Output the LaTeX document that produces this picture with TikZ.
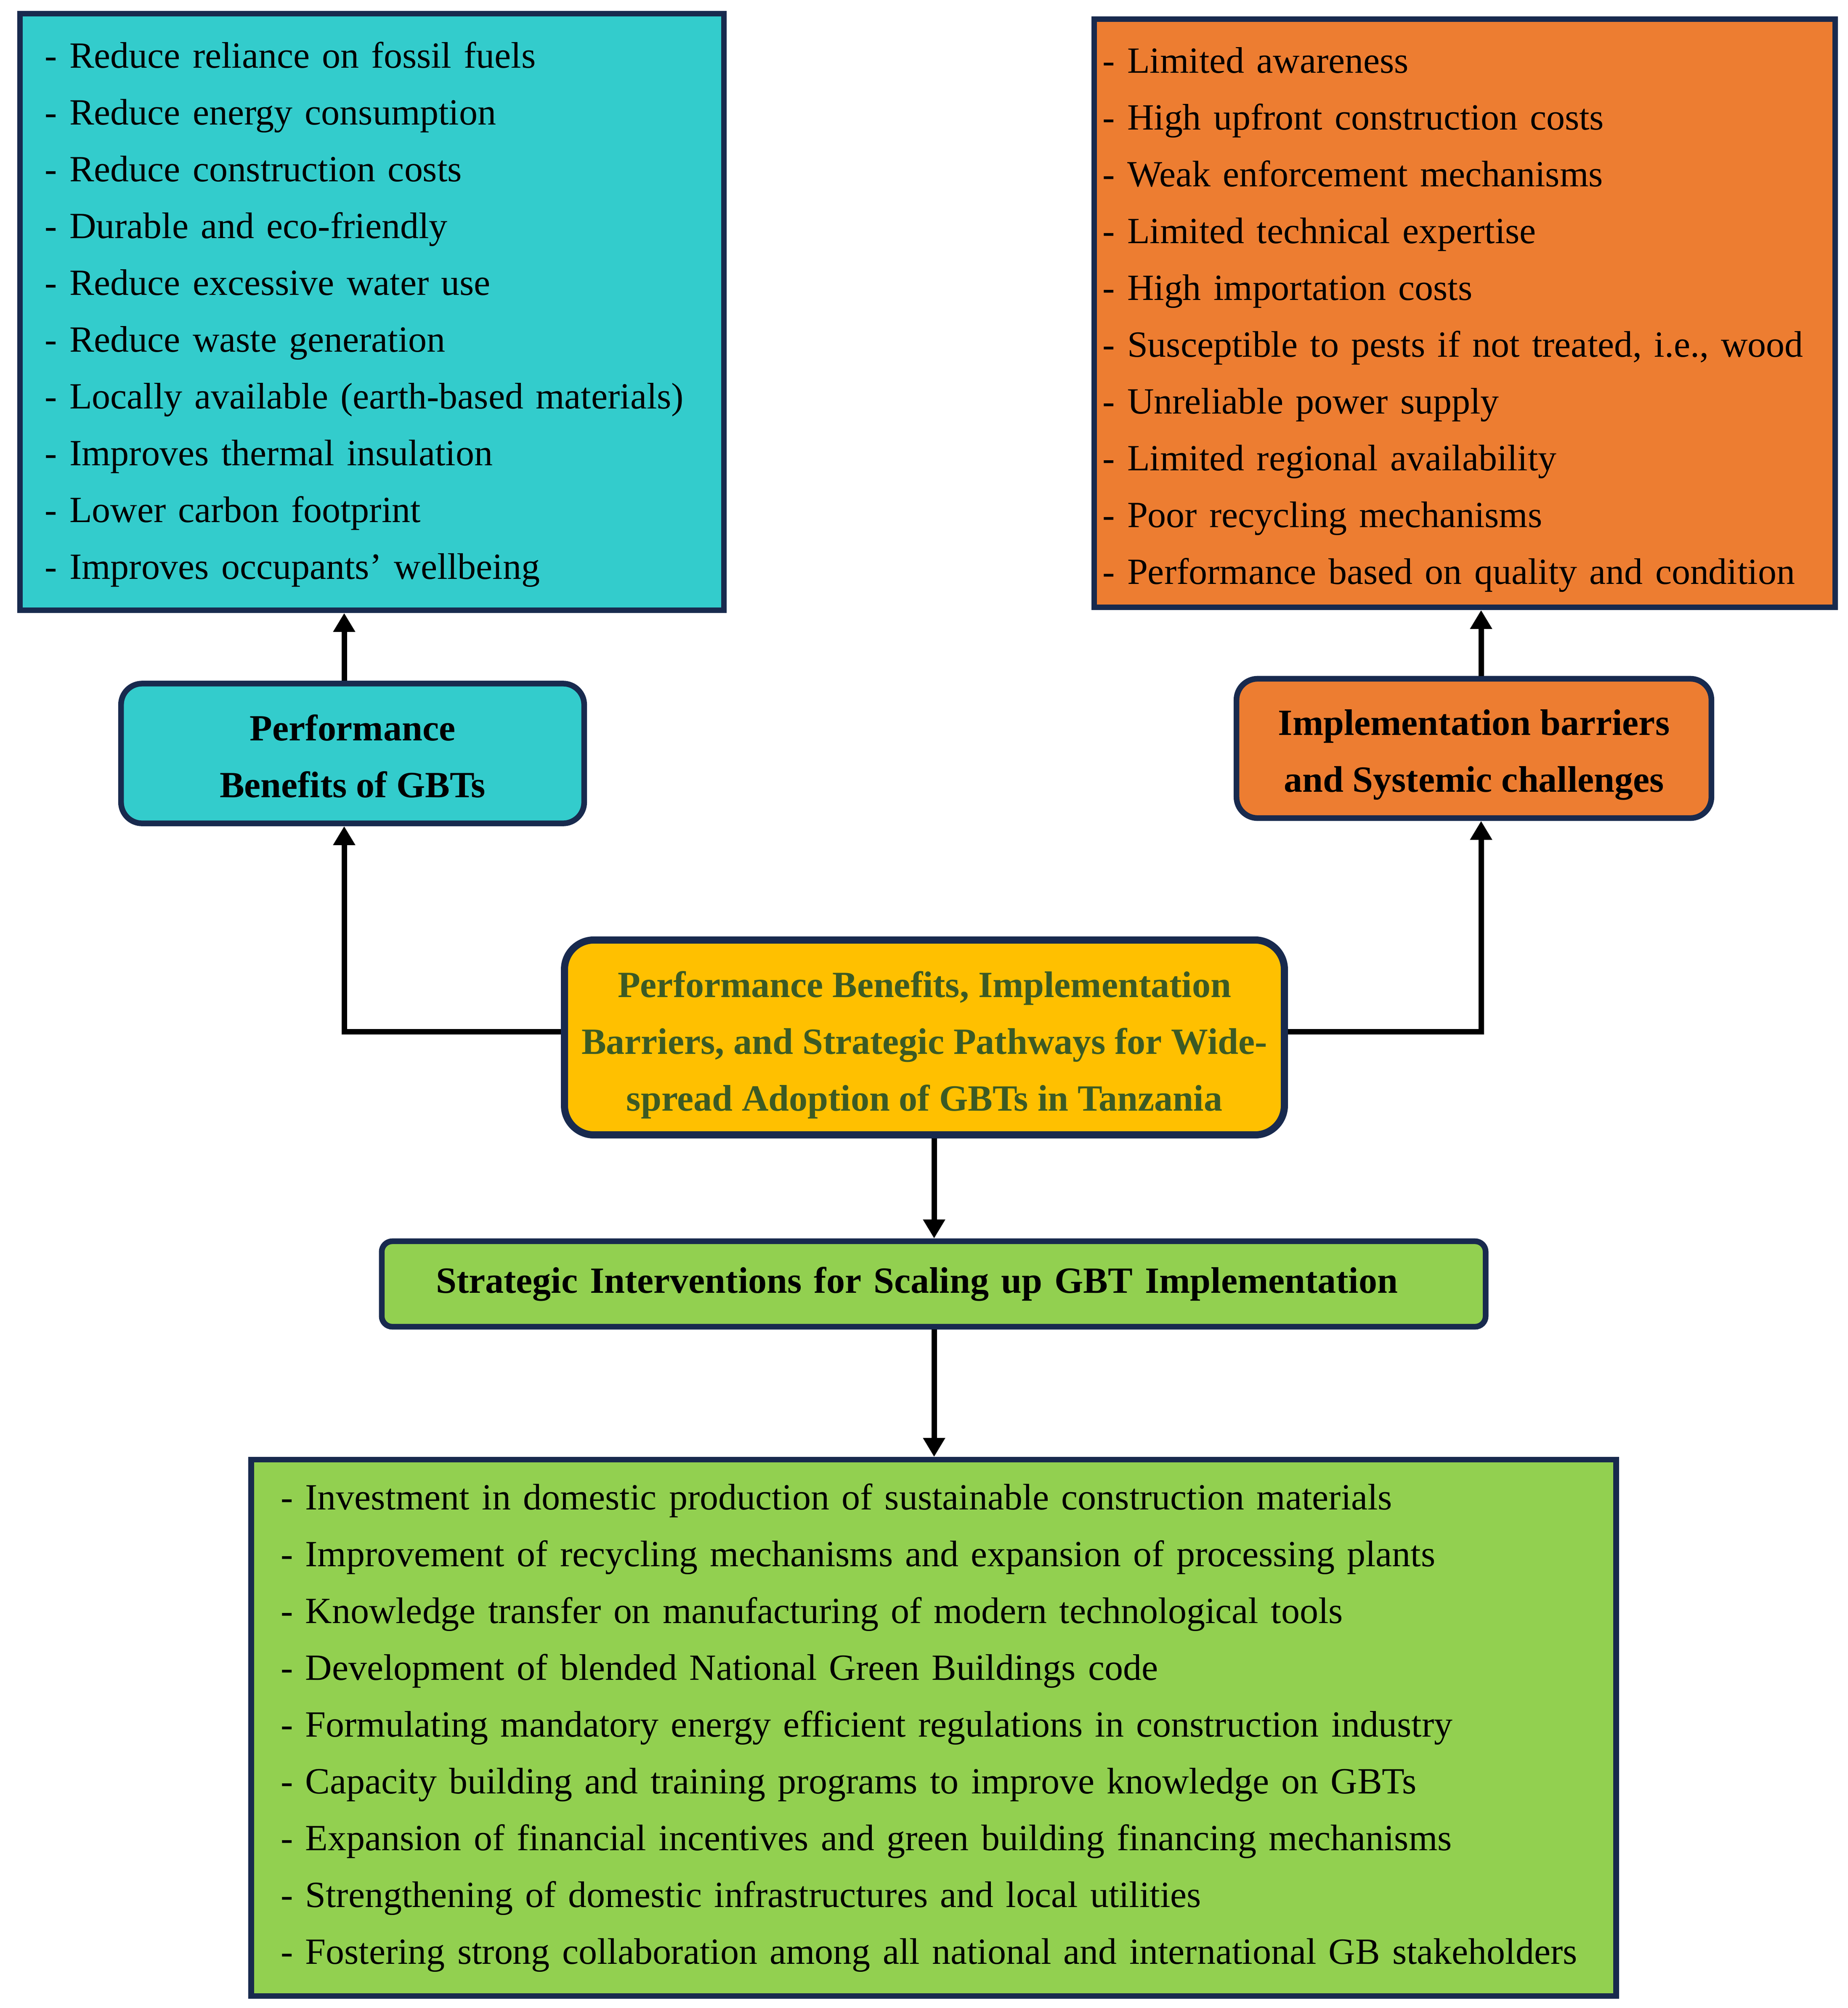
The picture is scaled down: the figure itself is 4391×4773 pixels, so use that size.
\documentclass[tikz,border=0pt]{standalone}
\IfFileExists{pplr8t.tfm}{%
    \usepackage[T1]{fontenc}
    \renewcommand{\rmdefault}{ppl}
    \newcommand{\boxsize}{22.5}}{%
    \usepackage{fontspec}
    \setmainfont{Liberation Serif}
    \newcommand{\boxsize}{25}}
\usetikzlibrary{arrows.meta}

\definecolor{tealbox}{HTML}{33CCCC}
\definecolor{orangebox}{HTML}{ED7D31}
\definecolor{goldbox}{HTML}{FFC000}
\definecolor{greenbox}{HTML}{92D050}
\definecolor{navyline}{HTML}{182A4E}
\definecolor{olivetext}{HTML}{3C5A24}

\newcommand{\firstline}[1]{\rule{0pt}{#1}}

\tikzset{
    listbox/.style={rectangle, draw=navyline, line width=0.135cm, align=left, inner ysep=0pt,
        font=\fontsize{\boxsize}{38.4}\selectfont},
    headbox/.style={rectangle, rounded corners=0.5cm, draw=navyline, line width=0.135cm, align=center,
        font=\bfseries\fontsize{\boxsize}{38.4}\selectfont},
    arr/.style={-{Triangle[length=0.45cm,width=0.5cm]}, line width=0.13cm}
}

\begin{document}
\begin{tikzpicture}[x=0.01cm,y=-0.01cm]
                        \useasboundingbox (0,0) rectangle (4391,4773);
                        \coordinate (lx) at (818,0);
                        \coordinate (rx) at (3520,0);
                        \coordinate (cx) at (2220,0);
                        \coordinate (my) at (0,2452);
                        \node[listbox, fill=tealbox, text width=15.54cm, inner xsep=0.59cm, minimum height=14.17cm] (benlist) at (884,741.5)
                            {\firstline{0.74cm}- Reduce reliance on fossil fuels\\- Reduce energy consumption\\- Reduce construction costs\\- Durable and eco-friendly\\- Reduce excessive water use\\- Reduce waste generation\\- Locally available (earth-based materials)\\- Improves thermal insulation\\- Lower carbon footprint\\- Improves occupants' wellbeing};
                        \node[listbox, fill=orangebox, text width=17.2cm, inner xsep=0.2cm, minimum height=13.97cm] (barlist) at (3481,744.5)
                            {\firstline{0.92cm}- Limited awareness\\- High upfront construction costs\\- Weak enforcement mechanisms\\- Limited technical expertise\\- High importation costs\\- Susceptible to pests if not treated, i.e., wood\\- Unreliable power supply\\- Limited regional availability\\- Poor recycling mechanisms\\- Performance based on quality and condition};
                        \node[headbox, fill=tealbox, minimum width=11cm, minimum height=3.32cm] (perf) at (838,1791)
                            {\firstline{0.74cm}Performance\\Benefits of GBTs};
                        \node[headbox, fill=orangebox, minimum width=11.28cm, minimum height=3.31cm] (impl) at (3503,1779)
                            {\firstline{0.92cm}Implementation barriers\\and Systemic challenges};
                        \node[headbox, fill=goldbox, text=olivetext, rounded corners=0.7cm, line width=0.17cm, minimum width=17.1cm, minimum height=4.63cm] (main) at (2197,2466)
                            {\firstline{0.98cm}Performance Benefits, Implementation\\Barriers, and Strategic Pathways for Wide-\\spread Adoption of GBTs in Tanzania};
                        \node[headbox, fill=greenbox, rounded corners=0.25cm, align=left, text width=23.64cm, inner xsep=1.29cm, minimum height=2.03cm] (strat) at (2219,3052)
                            {Strategic Interventions for Scaling up GBT Implementation};
                        \node[listbox, fill=greenbox, text width=31.02cm, inner xsep=0.7cm, minimum height=12.74cm] (botlist) at (2219,4107)
                            {- Investment in domestic production of sustainable construction materials\\- Improvement of recycling mechanisms and expansion of processing plants\\- Knowledge transfer on manufacturing of modern technological tools\\- Development of blended National Green Buildings code\\- Formulating mandatory energy efficient regulations in construction industry\\- Capacity building and training programs to improve knowledge on GBTs\\- Expansion of financial incentives and green building financing mechanisms\\- Strengthening of domestic infrastructures and local utilities\\- Fostering strong collaboration among all national and international GB stakeholders};
                        \draw[arr] (perf.north -| lx) -- (benlist.south -| lx);
                        \draw[arr] (impl.north -| rx) -- (barlist.south -| rx);
                        \draw[arr] (main.west |- my) -| (lx |- perf.south);
                        \draw[arr] (main.east |- my) -| (rx |- impl.south);
                        \draw[arr] (main.south -| cx) -- (strat.north -| cx);
                        \draw[arr] (strat.south -| cx) -- (botlist.north -| cx);
                    \end{tikzpicture}
\end{document}
